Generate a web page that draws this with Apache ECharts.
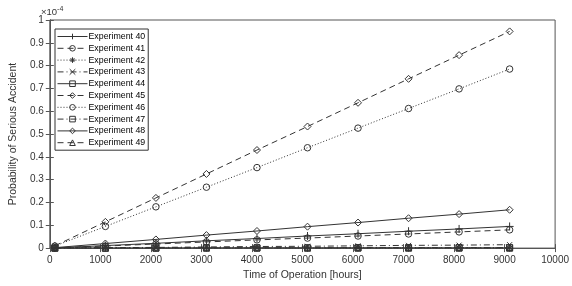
<!DOCTYPE html>
<html><head><meta charset="utf-8">
<script src="https://cdn.jsdelivr.net/npm/echarts@6/dist/echarts.min.js"></script>
<style>html,body{margin:0;padding:0;background:#fff}#c{width:572px;height:286px}</style>
</head><body><div id="c"></div>
<script>
// time (hours)
const hours = [100,1100,2100,3100,4100,5100,6100,7100,8100,9100];
// probabilities in units of 1e-4
const exp40 = [0.001,0.011,0.021,0.032,0.042,0.053,0.063,0.074,0.084,0.095];
const exp41 = [0.001,0.009,0.018,0.027,0.036,0.044,0.053,0.062,0.071,0.080];
const exp42 = [0.000,0.000,0.000,0.000,0.000,0.000,0.000,0.000,0.000,0.000];
const exp43 = [0.000,0.002,0.003,0.005,0.007,0.008,0.010,0.012,0.013,0.015];
const exp44 = [0.000,0.000,0.000,0.001,0.001,0.001,0.001,0.001,0.001,0.001];
const exp45 = [0.010,0.115,0.220,0.325,0.430,0.533,0.637,0.742,0.846,0.950];
const exp46 = [0.009,0.095,0.181,0.267,0.353,0.440,0.526,0.612,0.698,0.785];
const exp47 = [0.000,0.000,0.001,0.001,0.001,0.001,0.002,0.002,0.002,0.002];
const exp48 = [0.002,0.020,0.038,0.057,0.075,0.094,0.112,0.131,0.149,0.168];
const exp49 = [0.000,0.000,0.000,0.000,0.000,0.000,0.000,0.000,0.000,0.000];
const names = ['Experiment 40','Experiment 41','Experiment 42','Experiment 43','Experiment 44','Experiment 45','Experiment 46','Experiment 47','Experiment 48','Experiment 49'];
const yTicks = ['0','0.1','0.2','0.3','0.4','0.5','0.6','0.7','0.8','0.9','1'];
const xTicks = ['0','1000','2000','3000','4000','5000','6000','7000','8000','9000','10000'];

const PLUS='path://M5,0L5,10M0,5L10,5';
const STAR='path://M5,0L5,10M0,5L10,5M1.5,1.5L8.5,8.5M8.5,1.5L1.5,8.5';
const XM='path://M0,0L10,10M10,0L0,10';
const styles = [
  {sym:PLUS,type:'solid',size:8},
  {sym:'circle',type:[6,4],size:6.5},
  {sym:STAR,type:[1,2],size:7},
  {sym:XM,type:[6,3,1,3],size:5},
  {sym:'rect',type:'solid',size:6},
  {sym:'diamond',type:[6,4],size:7},
  {sym:'circle',type:[1,2],size:6.5},
  {sym:'rect',type:[6,3,1,3],size:6},
  {sym:'diamond',type:'solid',size:7},
  {sym:'triangle',type:[6,4],size:6}
];
const data = [exp40,exp41,exp42,exp43,exp44,exp45,exp46,exp47,exp48,exp49];
const col = '#333';
const series = data.map((d,i)=>({
  name: names[i], type:'line',
  data: hours.map((h,j)=>[h,d[j]]),
  symbol: styles[i].sym, symbolSize: styles[i].size,
  showAllSymbol: true,
  lineStyle:{color:col,width:1,type:styles[i].type},
  itemStyle:{color:'rgba(0,0,0,0)',borderColor:col,borderWidth:1},
  emphasis:{disabled:true},
  animation:false
}));

const font = 'Liberation Sans, Arial, sans-serif';
const chart = echarts.init(document.getElementById('c'));
chart.setOption({
  animation:false,
  grid:{left:41,right:12,top:20,bottom:30,show:true,borderColor:'#555',borderWidth:1},
  legend:{
    orient:'vertical', left:55, top:29, itemWidth:30, itemHeight:7, itemGap:2.8,
    padding:[3,3,3,2], borderColor:'#333', borderWidth:1, backgroundColor:'#fff',
    lineStyle:{width:1}, itemStyle:{borderWidth:1},
    textStyle:{fontFamily:font,fontSize:8.8,color:'#000',padding:[0,0,0,-4]},
    data:names
  },
  xAxis:[{
    type:'value', min:0, max:10000, interval:1000, position:'bottom',
    name:'Time of Operation [hours]', nameLocation:'middle', nameGap:20,
    nameTextStyle:{fontFamily:font,fontSize:10.5,color:'#333'},
    axisLine:{show:true,onZero:false,lineStyle:{color:'#555'}},
    axisTick:{inside:true,length:4,lineStyle:{color:'#555'}},
    axisLabel:{fontFamily:font,fontSize:10,color:'#333',margin:7,
      formatter:(v)=>xTicks[Math.round(v/1000)]},
    splitLine:{show:false}
  },{
    type:'value', min:0, max:10000, interval:1000, position:'top',
    axisLine:{show:true,lineStyle:{color:'#555'}},
    axisTick:{inside:true,length:4,lineStyle:{color:'#555'}},
    axisLabel:{show:false}, splitLine:{show:false}
  }],
  yAxis:[{
    type:'value', min:0, max:1, interval:0.1, position:'left',
    name:'Probability of Serious Accident', nameLocation:'middle', nameGap:26,
    nameTextStyle:{fontFamily:font,fontSize:10.5,color:'#333'},
    axisLine:{show:true,lineStyle:{color:'#555'}},
    axisTick:{inside:true,length:4,lineStyle:{color:'#555'}},
    axisLabel:{fontFamily:font,fontSize:10,color:'#333',margin:6,
      formatter:(v)=>yTicks[Math.round(v*10)]},
    splitLine:{show:false}
  },{
    type:'value', min:0, max:1, interval:0.1, position:'right',
    axisLine:{show:true,lineStyle:{color:'#555'}},
    axisTick:{inside:true,length:4,lineStyle:{color:'#555'}},
    axisLabel:{show:false}, splitLine:{show:false}
  }],
  graphic:[{
    type:'text', left:41, top:6,
    style:{text:'\u00d710{sup|-4}', font:'9.5px '+font, fill:'#333',
      rich:{sup:{fontSize:7,verticalAlign:'top',padding:[0,0,5,0],fontFamily:font,fill:'#333'}}}
  }],
  series: series
});
</script></body></html>
